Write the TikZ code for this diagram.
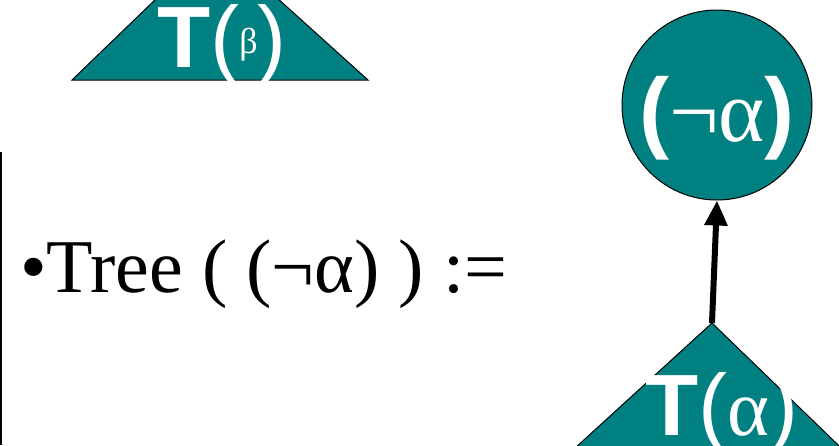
\documentclass[tikz,border=0pt]{standalone}
\usepackage{fontspec}
\setmainfont{Liberation Serif}
\newfontfamily\arialfont{Liberation Sans}
\usetikzlibrary{arrows.meta, positioning}
\definecolor{treeteal}{RGB}{0,128,128}
\tikzset{
  tree_tri/.style={draw=black, fill=treeteal, line width=1pt},
  root_node/.style={circle, draw=black, fill=treeteal, line width=1pt, minimum size=190pt, inner sep=0pt},
  tree_label/.style={text=white, inner sep=0pt, font=\arialfont\fontsize{87}{87}\selectfont},
  main_text/.style={inner sep=0pt, font=\fontsize{76}{76}\selectfont},
  edge_arrow/.style={-{Triangle[length=25pt,width=22pt]}, line width=6pt, black}
}
\begin{document}
\begin{tikzpicture}[x=1pt, y=-1pt]
  \useasboundingbox (0,0) rectangle (839,445);
  \clip (0,0) rectangle (839,445);

  % 1. Subtree of beta at the top
  \draw[tree_tri] (72,80) -- (215,-58) -- (368,80) -- cycle;
  \node[tree_label, anchor=base west] (betaText) at (157,67)
    {\bfseries T\mdseries(\raisebox{14pt}{\fontsize{36}{36}\selectfont\rmfamily β})};

  % 2. Left rule and the definition
  \draw[line width=2pt] (1,152) -- (1,445);
  \node[main_text, anchor=base west] (defText) at (20,292) {•Tree ( (¬α) ) :=};

  % 3. Root node with the subtree below it
  \node[root_node] (negRoot) at (717,105) {};
  \node[tree_label, anchor=base, font=\arialfont\bfseries\fontsize{90}{90}\selectfont] (negText) at (717,141)
    {({\rmfamily\mdseries\fontsize{88}{88}\selectfont¬α})};
  \coordinate (alphaApex) at (712,323);
  \draw[tree_tri] (alphaApex) -- (551,470) -- (864,470) -- cycle;
  \node[tree_label, anchor=base west] (alphaText) at (645,435)
    {\bfseries T\mdseries(\rmfamily\fontsize{80}{80}\selectfont α\arialfont\fontsize{87}{87}\selectfont)};
  \draw[edge_arrow] (alphaApex) -- (negRoot.south);
\end{tikzpicture}
\end{document}
